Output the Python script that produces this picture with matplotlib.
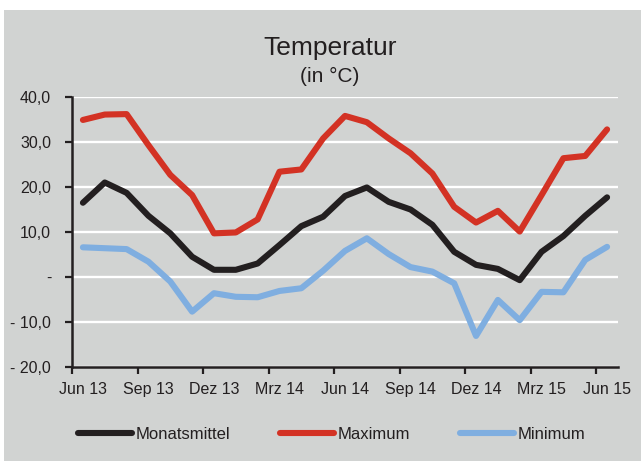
import matplotlib
matplotlib.use('Agg')
import matplotlib.pyplot as plt
from matplotlib.patches import Rectangle

plt.rcParams['font.family'] = ['Liberation Sans', 'DejaVu Sans']

# monthly values Jun 13 .. Jun 15
monate = ['Jun 13', 'Jul 13', 'Aug 13', 'Sep 13', 'Okt 13', 'Nov 13', 'Dez 13', 'Jan 14', 'Feb 14',
          'Mrz 14', 'Apr 14', 'Mai 14', 'Jun 14', 'Jul 14', 'Aug 14', 'Sep 14', 'Okt 14', 'Nov 14',
          'Dez 14', 'Jan 15', 'Feb 15', 'Mrz 15', 'Apr 15', 'Mai 15', 'Jun 15']
mittel = [16.5, 21.0, 18.7, 13.6, 9.7, 4.5, 1.6, 1.6, 3.0, 7.1, 11.3, 13.4, 18.0,
          19.9, 16.7, 15.0, 11.6, 5.6, 2.7, 1.8, -0.7, 5.6, 9.1, 13.6, 17.7]
maximum = [34.9, 36.1, 36.2, 29.3, 22.7, 18.2, 9.7, 9.9, 12.8, 23.4, 23.9, 30.8, 35.8,
           34.4, 30.8, 27.5, 23.0, 15.6, 12.1, 14.7, 10.1, 18.2, 26.4, 26.9, 32.8]
minimum = [6.6, 6.4, 6.2, 3.4, -1.0, -7.7, -3.6, -4.4, -4.5, -3.1, -2.5, 1.4, 5.8,
           8.6, 5.1, 2.2, 1.2, -1.4, -13.1, -5.1, -9.6, -3.3, -3.4, 3.8, 6.7]
y_ticks = [40, 30, 20, 10, 0, -10, -20]
y_labels = ['40,0', '30,0', '20,0', '10,0', '-', '- 10,0', '- 20,0']

grau = '#D1D3D2'
txt = '#231F20'

fig = plt.figure(figsize=(6.41, 4.61), dpi=100)
fig.patch.set_facecolor('white')
fig.patches.append(Rectangle((4/641, 0), 1 - 4/641, 1 - 10/461, transform=fig.transFigure,
                             facecolor=grau, edgecolor='none', zorder=-10))

ax = fig.add_axes([72/641, 1 - 367/461, (618 - 72)/641, 270/461])
ax.set_facecolor(grau)

x = list(range(len(monate)))
lw = 4.4
ax.plot(x, mittel, color=txt, lw=lw, solid_joinstyle='round', solid_capstyle='round',
        label='Monatsmittel', zorder=3)
ax.plot(x, maximum, color='#D33224', lw=lw, solid_joinstyle='round', solid_capstyle='round',
        label='Maximum', zorder=3)
ax.plot(x, minimum, color='#7FAEE0', lw=lw, solid_joinstyle='round', solid_capstyle='round',
        label='Minimum', zorder=3)

ax.set_xlim(-0.5, len(monate) - 0.5)
ax.set_ylim(-20, 40)

ax.set_yticks(y_ticks)
ax.set_yticklabels(y_labels)
ax.yaxis.grid(True, color='white', lw=1.7)
ax.set_axisbelow(True)

# ticks between categories, labels on categories
ax.set_xticks([i - 0.5 for i in range(0, len(monate), 3)])
ax.set_xticklabels([])
ax.set_xticks(list(range(0, len(monate), 3)), minor=True)
ax.set_xticklabels([monate[i] for i in range(0, len(monate), 3)], minor=True)
ax.tick_params(axis='x', which='major', length=5, width=1.6, color=txt, direction='out')
ax.tick_params(axis='x', which='minor', length=0, pad=11, labelsize=11.5, labelcolor=txt)
ax.tick_params(axis='y', length=5, width=1.6, color=txt, pad=10, labelsize=11.5, labelcolor=txt)

for s in ['top', 'right']:
    ax.spines[s].set_visible(False)
for s in ['left', 'bottom']:
    ax.spines[s].set_color(txt)
    ax.spines[s].set_linewidth(1.8)

fig.text(330/641, 1 - 55/461, 'Temperatur', ha='center', va='baseline', fontsize=19, color=txt)
fig.text(330/641, 1 - 82/461, '(in °C)', ha='center', va='baseline', fontsize=15, color=txt)

leg = fig.legend(loc='center', bbox_to_anchor=(332/641, 1 - 434/461), ncol=3, frameon=False,
                 handlelength=3.2, handletextpad=0.25, columnspacing=3.0,
                 prop={'size': 12})
for t in leg.get_texts():
    t.set_color(txt)

fig.savefig('out.png', dpi=100, facecolor=fig.get_facecolor())
